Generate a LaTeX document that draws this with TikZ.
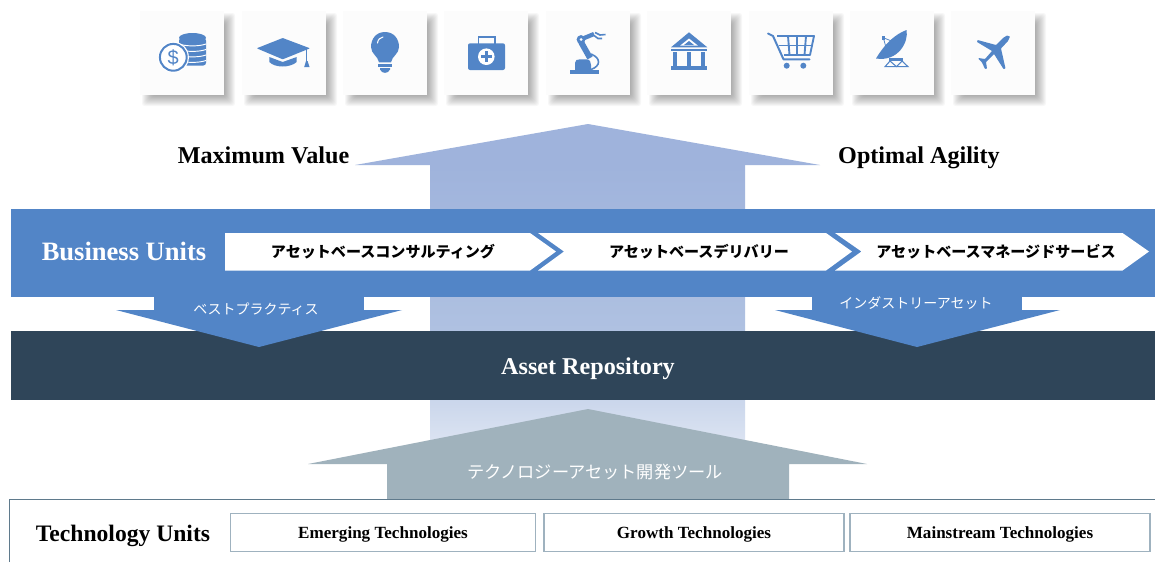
\documentclass[tikz,border=0pt]{standalone}
\usepackage{fontspec}
\usepackage{xcolor}
\setmainfont{Liberation Serif}
\setsansfont{Liberation Sans}
\newfontfamily\jpfont{Noto Sans CJK JP}
\definecolor{unitblue}{HTML}{5285C7}
\definecolor{repodark}{HTML}{2F4559}
\definecolor{toolgray}{HTML}{A0B2BC}
\definecolor{paneledge}{HTML}{5F7A8C}
\definecolor{boxedge}{HTML}{9FB2BF}
\definecolor{pillartop}{HTML}{9FB3DC}
\definecolor{pillarmid}{HTML}{AFC1E1}
\definecolor{pillarlow}{HTML}{E4EAF5}

\begin{document}
\begin{tikzpicture}[x=0.75pt,y=-0.75pt,
	tilebox/.style={shape=rectangle,fill=white!99!black,minimum size=63pt,inner sep=0pt},
	bandbox/.style={shape=rectangle,minimum width=858pt,inner sep=0pt},
	unitbox/.style={shape=rectangle,draw=boxedge,line width=0.9pt,fill=white,minimum height=28.5pt,inner sep=0pt},
	head/.style={font=\bfseries\fontsize{18.1}{20}\selectfont,text height=12pt,text depth=0pt,inner sep=0pt},
	tech/.style={font=\bfseries\fontsize{12.8}{14}\selectfont,text height=8.4pt,text depth=0pt},
	jplabel/.style={font=\jpfont\bfseries\fontsize{11.3}{13}\selectfont},
	jpwhite/.style={font=\jpfont\fontsize{10.5}{13}\selectfont,text=white},
	icon/.style={fill=unitblue,draw=none},
	iconline/.style={draw=unitblue,line width=1.5pt,fill=none},
	iconcut/.style={draw=white,line width=0.7pt,fill=none}]

	\useasboundingbox (0,0) rectangle (1155,562);
	\fill[white] (0,0) rectangle (1155,562);

	\foreach \n/\x in {1/140,2/242,3/343,4/444,5/546,6/647,7/749,8/850,9/951} {
		\foreach \r in {-3,...,8} {
			\fill[black,opacity=0.03,rounded corners=2pt] ({\x+10-\r},{21-\r}) rectangle ({\x+87+\r},{98+\r});
		}
		\node[tilebox] (tile\n) at (\x+42,53) {};
	}

	\fill[pillartop] (588,124) -- (820,165) -- (355,165) -- cycle;
	\shade[top color=pillartop,bottom color=pillarmid] (430,165) rectangle (745,331);
	\shade[top color=pillarmid,bottom color=pillarlow] (430,331) rectangle (745,464);

	\node[head] (maxvalue) at (263.5,155) {Maximum Value};
	\node[head] (agility) at (919,155) {Optimal Agility};

	\fill[unitblue] (154,290) rectangle (364,310);
	\fill[unitblue] (812,290) rectangle (1022,310);
	\node[bandbox,fill=repodark,minimum height=51.75pt] (repo) at (583,365.5) {};
	\node[bandbox,fill=unitblue,minimum height=66pt] (business) at (583,253) {};
	\fill[unitblue] (116,310) -- (402,310) -- (259,347) -- cycle;
	\fill[unitblue] (775,310) -- (1060,310) -- (917,347) -- cycle;

	\node[head,text=white,font=\bfseries\fontsize{19.9}{22}\selectfont] (businesstxt) at (124,252.5) {Business Units};
	\node[head,text=white] (repotxt) at (588,366) {Asset Repository};

	\fill[white] (225,233) -- (530,233) -- (556,251.5) -- (530,270.5) -- (225,270.5) -- cycle;
	\fill[white] (538,233) -- (826,233) -- (852,251.5) -- (826,270.5) -- (538,270.5) -- (564,251.5) -- cycle;
	\fill[white] (835,233) -- (1122.5,233) -- (1149,251.5) -- (1122.5,270.5) -- (835,270.5) -- (861.5,251.5) -- cycle;

	\node[jplabel] (consult) at (383,252) {アセットベースコンサルティング};
	\node[jplabel] (delivery) at (699,252) {アセットベースデリバリー};
	\node[jplabel] (managed) at (996,252) {アセットベースマネージドサービス};
	\node[jpwhite] (practice) at (256,309) {ベストプラクティス};
	\node[jpwhite] (industry) at (916,303) {インダストリーアセット};

	\fill[toolgray] (588,409) -- (867,464) -- (789,464) -- (789,499) -- (387,499) -- (387,464) -- (308,464) -- cycle;
	\node[jpwhite,font=\jpfont\fontsize{12.9}{15}\selectfont] (tools) at (595,472) {テクノロジーアセット開発ツール};

	\draw[paneledge,line width=0.7pt] (9.5,562) -- (9.5,499) -- (1155,499);
	\node[head,font=\bfseries\fontsize{17.7}{20}\selectfont] (techtxt) at (123,533) {Technology Units};
	\node[unitbox,minimum width=228.5pt,tech] (emerging) at (383,532.5) {Emerging Technologies};
	\node[unitbox,minimum width=225pt,tech] (growth) at (694,532.5) {Growth Technologies};
	\node[unitbox,minimum width=225pt,tech] (mainstream) at (1000,532.5) {Mainstream Technologies};

	% coins
	\fill[icon,rounded corners=2pt] (179,38) rectangle (206,65.5);
	\fill[icon] (192.5,37.8) ellipse (13.5 and 4.8);
	\foreach \y in {44,49.5,55,60.5} {
		\draw[iconcut] (179,\y) .. controls (186,\y+2.5) and (199,\y+2.5) .. (206,\y);
	}
	\fill[white] (173.3,57.3) circle (15.6);
	\draw[iconline] (173.3,57.3) circle (13.4);
	\node[font=\sffamily\fontsize{15}{15}\selectfont,text=unitblue,inner sep=0pt] (dollar) at (173.3,57.3) {\$};

	% cap
	\fill[icon,rounded corners=0.5pt] (256.7,48.3) -- (282.7,38) -- (310,48.3) -- (282.7,59.3) -- cycle;
	\fill[icon] (269.3,57) -- (282.7,62) -- (296.7,57) -- (296.7,62) .. controls (290,68) and (275,68) .. (269.3,62) -- cycle;
	\draw[unitblue,line width=0.8pt] (306.8,49) -- (306.8,62);
	\fill[icon] (306,61) -- (307.6,61) -- (309.5,67) -- (304.2,67) -- cycle;

	% bulb
	\fill[icon] (385,32) .. controls (376,32) and (371,39) .. (371,47) .. controls (371,54) and (378,56) .. (379,62.3) -- (391,62.3) .. controls (392,56) and (399,54) .. (399,47) .. controls (399,39) and (394,32) .. (385,32) -- cycle;
	\draw[white,line width=0.8pt,line cap=round] (377.5,43) .. controls (378,39.5) and (380,37.5) .. (383,37);
	\fill[icon] (378,63.8) rectangle (392,66.6);
	\fill[icon] (380,68) -- (390,68) -- (390,69.5) .. controls (388,74) and (382,74) .. (380,69.5) -- cycle;

	% medical kit
	\draw[unitblue,line width=1pt] (478.5,44) -- (478.5,37) -- (495,37) -- (495,44);
	\fill[icon,rounded corners=1.5pt] (468,43.3) rectangle (505,70);
	\fill[white] (486.3,56.7) circle (8.3);
	\fill[icon] (484.8,51) rectangle (487.8,62.4);
	\fill[icon] (480.6,55.2) rectangle (492,58.2);

	% robot arm
	\fill[icon] (570,70) rectangle (599.3,74);
	\fill[icon] (575,70) -- (575,63) .. controls (575,60) and (577,59.3) .. (580,59.3) -- (586,59.3) .. controls (590,59.3) and (591,62) .. (591,65) -- (591,70) -- cycle;
	\draw[unitblue,line width=4.4pt] (581,42) -- (590,58);
	\draw[unitblue,line width=1.2pt] (591,54) .. controls (601,58) and (601,66) .. (591,69.5);
	\draw[unitblue,line width=3.2pt] (583,38.5) -- (594,34);
	\fill[icon] (581,39.5) circle (4.4);
	\fill[white] (581,39.5) circle (1.5);
	\draw[unitblue,line width=1.2pt] (594,35.5) -- (598,38.5) -- (602,38.5);
	\draw[unitblue,line width=1.2pt] (595,32.5) -- (600,35) -- (605.5,34.5);

	% bank
	\fill[icon] (689,32.3) -- (707.3,47.3) -- (671,47.3) -- cycle;
	\fill[white] (689,38.5) -- (698,45.7) -- (680,45.7) -- cycle;
	\fill[icon] (689,41) -- (694,45) -- (684,45) -- cycle;
	\fill[icon] (671,49) rectangle (707,51);
	\foreach \x in {673,687,701.3} {
		\fill[icon] (\x,52) rectangle (\x+4,65.5);
	}
	\fill[icon] (671,66) rectangle (707,69.7);

	% cart
	\draw[unitblue,line width=1.5pt,line cap=round,line join=round] (768,33.5) -- (773,36) -- (783.5,59.3) -- (809.5,59.3);
	\draw[unitblue,line width=1.4pt,line join=round] (777,36) -- (814,36) -- (810,55) -- (784,55);
	\draw[unitblue,line width=1.4pt] (778.5,45.5) -- (812,45.5);
	\draw[unitblue,line width=1.4pt] (788,36) -- (789.5,55);
	\draw[unitblue,line width=1.4pt] (797,36) -- (797,55);
	\draw[unitblue,line width=1.4pt] (806,36) -- (804.5,55);
	\fill[icon] (786.7,65.7) circle (3);
	\fill[icon] (803.3,65.7) circle (3);

	% dish
	\fill[icon] (876,58.5) .. controls (886,42) and (896,34) .. (906.5,30) .. controls (909,42) and (898,62) .. (876,58.5) -- cycle;
	\draw[unitblue,line width=0.6pt] (883.3,37.7) -- (893.3,41.7);
	\draw[unitblue,line width=0.6pt] (883.3,37.7) -- (886.7,50);
	\fill[icon] (881.5,36) rectangle (885,39.5);
	\fill[icon] (889,58) rectangle (903,61);
	\draw[unitblue,line width=0.8pt] (890,61) -- (885,66.7) -- (908,66.7) -- (902,61) -- (896.5,66.7) -- cycle;

	% plane
	\fill[icon,rounded corners=0.4pt] (1010,36.5) -- (1008,41) -- (1001,48.5) -- (1005.5,68.5) -- (1003.5,69) -- (994,54) -- (986,62) -- (987,68.5) -- (985,69) -- (982,62.5) -- (978.5,59) -- (978.5,58) -- (985,59) -- (992,51) -- (977,42) -- (977.5,40) -- (996,45) -- (1003,38) -- (1007,35.5) -- cycle;

\end{tikzpicture}
\end{document}
